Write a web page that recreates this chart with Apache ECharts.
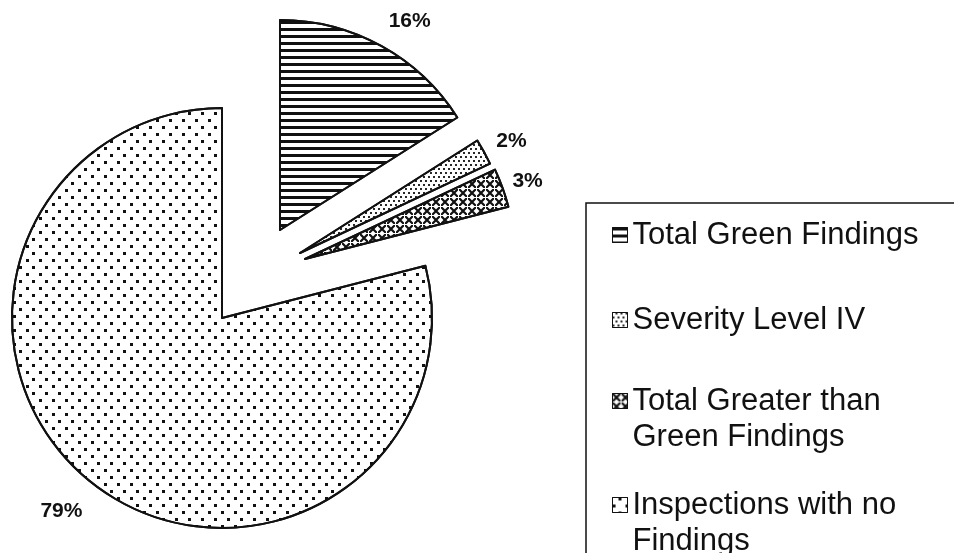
<!DOCTYPE html>
<html>
<head>
<meta charset="utf-8">
<script src="https://cdn.jsdelivr.net/npm/echarts@6/dist/echarts.min.js"></script>
<style>
html, body { margin: 0; padding: 0; background: #fff; }
#chart { width: 954px; height: 553px; }
</style>
</head>
<body>
<div id="chart"></div>
<script>
// data
var categories = ['Total Green Findings', 'Severity Level IV', 'Total Greater than Green Findings', 'Inspections with no Findings'];
var legendLabels = ['Total Green Findings', 'Severity Level IV', 'Total Greater than\nGreen Findings', 'Inspections with no\nFindings'];
var percents = [16, 2, 3, 79];

// exploded slices: each slice gets its own pie center
var centers = [[280, 230], [300, 253], [305, 259], [222, 318]];
// [length, length2] of the (hidden) label line, used to place the % labels
var labelLines = [[28, -6], [22, -7], [20, -9], [34, -10]];
var legendTops = [217, 302, 347, 451];

var font = 'Liberation Sans, Arial, sans-serif';
var ink = '#111';

// fill patterns, one per slice
var decals = [
    { symbol: 'rect', symbolSize: 1, dashArrayX: [1, 0], dashArrayY: [3, 4], color: ink },
    { symbol: 'rect', symbolSize: 0.9, dashArrayX: [[2, 3], [0, 3, 2, 0]], dashArrayY: [2, 2], color: ink },
    { symbol: 'path://M0 0L2 0L10 8L10 10L8 10L0 2Z M8 0L10 0L10 2L2 10L0 10L0 8Z', symbolSize: 1, dashArrayX: [8, 1], dashArrayY: [8, 1], color: ink },
    { symbol: 'rect', symbolSize: 1, dashArrayX: [[3, 10], [0, 6, 3, 4]], dashArrayY: [3, 4], color: ink }
];

var myChart = echarts.init(document.getElementById('chart'));

var series = percents.map(function (v, k) {
    return {
        type: 'pie',
        silent: true,
        animation: false,
        center: centers[k],
        radius: 210,
        startAngle: 90,
        clockwise: true,
        avoidLabelOverlap: false,
        label: {
            position: 'outside',
            formatter: '{c}%',
            fontFamily: font,
            fontSize: 21,
            fontWeight: 'bold',
            color: ink,
            distanceToLabelLine: 0
        },
        labelLine: { show: false, length: labelLines[k][0], length2: labelLines[k][1] },
        data: categories.map(function (name, i) {
            var own = i === k;
            return {
                name: name,
                value: percents[i],
                itemStyle: own
                    ? { color: '#fff', borderColor: ink, borderWidth: 2, decal: decals[i] }
                    : { color: 'transparent', borderWidth: 0 },
                label: { show: own }
            };
        })
    };
});

// one legend per entry so each can sit where the original has it;
// two-line entries get an empty first line so the icon lines up with line one
var legends = categories.map(function (name, i) {
    var twoLines = legendLabels[i].indexOf('\n') >= 0;
    return {
        orient: 'vertical',
        left: 612,
        top: legendTops[i],
        padding: 0,
        selectedMode: false,
        icon: 'rect',
        itemWidth: 15,
        itemHeight: 15,
        textStyle: {
            fontFamily: font,
            fontSize: 31,
            lineHeight: 36,
            color: ink
        },
        formatter: function () { return twoLines ? '\n' + legendLabels[i] : legendLabels[i]; },
        data: [{
            name: name,
            itemStyle: { color: '#fff', borderColor: ink, borderWidth: 1, decal: decals[i] }
        }]
    };
});

var option = {
    backgroundColor: '#fff',
    animation: false,
    legend: legends,
    graphic: [{
        type: 'rect',
        silent: true,
        shape: { x: 586, y: 203, width: 420, height: 400 },
        style: { fill: 'none', stroke: ink, lineWidth: 1.5 }
    }],
    series: series
};

myChart.setOption(option);
</script>
</body>
</html>
